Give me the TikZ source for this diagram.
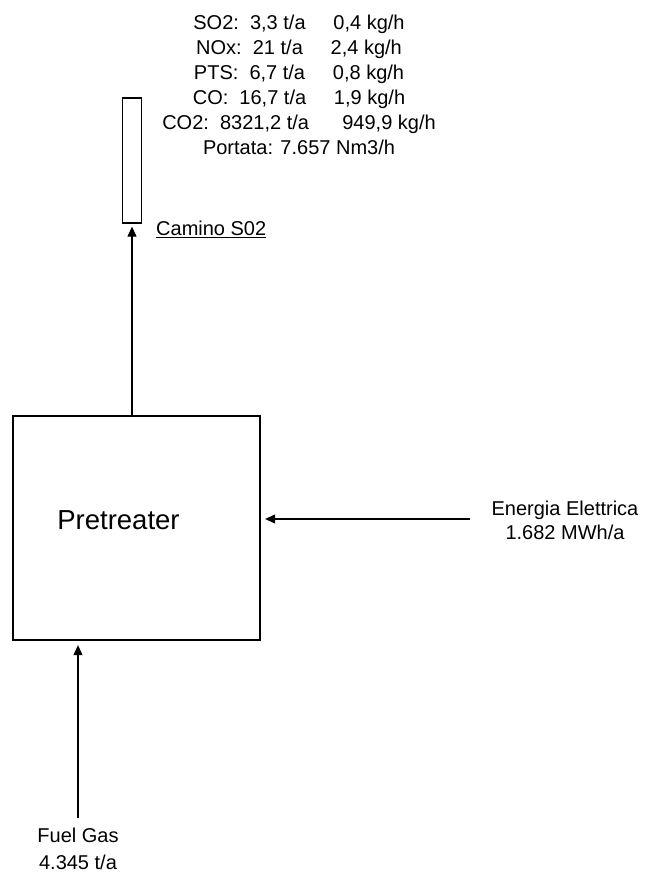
\documentclass[tikz,border=0pt]{standalone}
\usepackage{fontspec}
\setmainfont{Liberation Sans}
\usetikzlibrary{arrows.meta}
\begin{document}
\begin{tikzpicture}[x=1pt,y=-1pt,
  txt/.style={font=\fontsize{20}{25}\selectfont, align=center, inner sep=0pt},
  arr/.style={-{Triangle[length=10pt,width=9pt]}, line width=1.1pt},
  unit/.style={draw, line width=1.3pt, inner sep=0pt}]
\useasboundingbox (0,0) rectangle (646,874);
% main unit
\node[unit, minimum width=247pt, minimum height=224pt] (pre) at (136.5,528) {};
\node[font=\fontsize{27.5}{30}\selectfont, inner sep=0pt] (pretxt) at (118.5,520) {Pretreater};
% stack
\node[unit, minimum width=19pt, minimum height=125pt] (stack) at (132,160.5) {};
\node[txt, anchor=west] (cam) at (156,229) {\underline{Camino S02}};
% emissions
\node[txt, anchor=north] (emis) at (299,15) {SO2:~~3,3 t/a~~~~~0,4 kg/h\\
NOx:~~21 t/a~~~~~2,4 kg/h\\
PTS:~~6,7 t/a~~~~~0,8 kg/h\\
CO:~~16,7 t/a~~~~~1,9 kg/h\\
CO2:~~8321,2 t/a~~~~~~949,9 kg/h\\
Portata: 7.657 Nm3/h};
% inputs
\node[txt, anchor=north, font=\fontsize{20}{24}\selectfont] (ee) at (565,501) {Energia Elettrica\\1.682 MWh/a};
\node[txt, anchor=north, font=\fontsize{20}{27}\selectfont] (fg) at (78,828) {Fuel Gas\\4.345 t/a};
\coordinate (ein) at (470,519);
\coordinate (fin) at (78,818);
% connectors
\draw[arr, shorten >=4.5pt] (ein) -- (ein -| pre.east);
\draw[arr, shorten >=4.5pt] (fin) -- (fin |- pre.south);
\draw[arr, shorten >=3pt] (pre.north -| stack.south) -- (stack.south);
\end{tikzpicture}
\end{document}
